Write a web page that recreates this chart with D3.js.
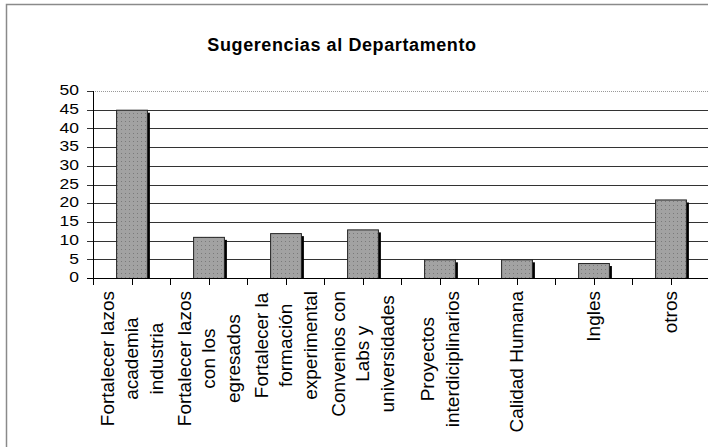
<!DOCTYPE html>
<html>
<head>
<meta charset="utf-8">
<script src="https://cdn.jsdelivr.net/npm/d3@7"></script>
<style>
  body { margin: 0; background: #fff; }
  text { font-family: "Liberation Sans", Arial, sans-serif; fill: #000; }
</style>
</head>
<body>
<script>
// chart data
var categories = [
  ["Fortalecer lazos", "academia", "industria"],
  ["Fortalecer lazos", "con los", "egresados"],
  ["Fortalecer la", "formación", "experimental"],
  ["Convenios con", "Labs y", "universidades"],
  ["Proyectos", "interdiciplinarios"],
  ["Calidad Humana"],
  ["Ingles"],
  ["otros"]
];
var values = [45, 11, 12, 13, 5, 5, 4, 21];
var yTicks = [0, 5, 10, 15, 20, 25, 30, 35, 40, 45, 50];
var title = "Sugerencias al Departamento";

var width = 708, height = 447;
var plot = {left: 93, right: 709, top: 91, bottom: 278};

var svg = d3.select("body").append("svg")
  .attr("width", width).attr("height", height);

svg.append("rect").attr("width", width).attr("height", height).attr("fill", "#fff");

// dotted fill like the old excel bars
var pat = svg.append("defs").append("pattern")
  .attr("id", "dots").attr("patternUnits", "userSpaceOnUse")
  .attr("width", 4).attr("height", 4);
pat.append("rect").attr("width", 4).attr("height", 4).attr("fill", "#a2a2a2");
pat.append("rect").attr("x", 1).attr("y", 1).attr("width", 1).attr("height", 1).attr("fill", "#7a7a7a");

// outer chart border (runs off the right and bottom of the picture)
svg.append("rect")
  .attr("x", 6.5).attr("y", 4.5)
  .attr("width", 760).attr("height", 500)
  .attr("fill", "none").attr("stroke", "#8a8a8a").attr("stroke-width", 1.5);

svg.append("text")
  .attr("x", 342).attr("y", 51)
  .attr("text-anchor", "middle")
  .style("font-weight", "bold").style("font-size", "18px")
  .style("letter-spacing", "0.6px")
  .text(title);

var x = d3.scaleBand()
  .domain(d3.range(categories.length))
  .range([plot.left, plot.right])
  .paddingInner(0.6).paddingOuter(0.3);

var y = d3.scaleLinear().domain([0, 50]).range([plot.bottom, plot.top]);

// gridlines
svg.selectAll(".grid")
  .data(yTicks.filter(function(t){ return t > 0 && t < 50; }))
  .enter().append("line")
  .attr("x1", plot.left - 6).attr("x2", plot.right)
  .attr("y1", function(d){ return Math.round(y(d)) + 0.5; })
  .attr("y2", function(d){ return Math.round(y(d)) + 0.5; })
  .attr("stroke", "#333").attr("stroke-width", 1);

// top of plot area is a dotted grey line
svg.append("line")
  .attr("x1", plot.left).attr("x2", plot.right)
  .attr("y1", Math.round(y(50)) + 0.5).attr("y2", Math.round(y(50)) + 0.5)
  .attr("stroke", "#999").attr("stroke-dasharray", "1,1");
svg.append("line")
  .attr("x1", plot.left - 6).attr("x2", plot.left)
  .attr("y1", Math.round(y(50)) + 0.5).attr("y2", Math.round(y(50)) + 0.5)
  .attr("stroke", "#333");

// bars: black shadow then dotted bar
var bars = svg.selectAll(".bar").data(values).enter().append("g");
bars.append("rect")
  .attr("x", function(d, i){ return x(i) + 3; })
  .attr("y", function(d){ return y(d) + 3; })
  .attr("width", x.bandwidth())
  .attr("height", function(d){ return plot.bottom - y(d) - 3; })
  .attr("fill", "#000");
bars.append("rect")
  .attr("x", function(d, i){ return x(i) + 0.5; })
  .attr("y", function(d){ return y(d) + 0.5; })
  .attr("width", x.bandwidth())
  .attr("height", function(d){ return plot.bottom - y(d); })
  .attr("fill", "url(#dots)")
  .attr("stroke", "#222").attr("stroke-width", 1);

// axes
svg.append("line")
  .attr("x1", plot.left + 0.5).attr("x2", plot.left + 0.5)
  .attr("y1", plot.top).attr("y2", plot.bottom + 1)
  .attr("stroke", "#000");
svg.append("line")
  .attr("x1", plot.left).attr("x2", plot.right)
  .attr("y1", plot.bottom + 0.5).attr("y2", plot.bottom + 0.5)
  .attr("stroke", "#000");
svg.append("line")
  .attr("x1", plot.left - 6).attr("x2", plot.left)
  .attr("y1", plot.bottom + 0.5).attr("y2", plot.bottom + 0.5)
  .attr("stroke", "#000");

// ticks along x at category edges and centres
var half = x.step() / 2;
var xt = d3.range(categories.length * 2 + 1).map(function(k){ return plot.left + k * half; });
svg.selectAll(".xtick").data(xt).enter().append("line")
  .attr("x1", function(d){ return Math.round(d) + 0.5; })
  .attr("x2", function(d){ return Math.round(d) + 0.5; })
  .attr("y1", plot.bottom).attr("y2", plot.bottom + 7)
  .attr("stroke", "#000");

// y labels are a bit wide in the original, so stretch them sideways
svg.selectAll(".ylab").data(yTicks).enter().append("text")
  .attr("transform", function(d){ return "translate(79," + y(d) + ") scale(1.25,1)"; })
  .attr("dy", "0.3em")
  .attr("text-anchor", "end")
  .style("font-size", "14px")
  .text(function(d){ return d; });

// rotated category labels, lines centred on each other, top aligned
var labelTop = 291, lineGap = 24.5;
categories.forEach(function(lines, i){
  var cx = x(i) + x.bandwidth() / 2;
  var g = svg.append("g").attr("transform", "translate(" + cx + "," + labelTop + ") rotate(-90)");
  var t = g.selectAll("text").data(lines).enter().append("text")
    .attr("y", function(d, j){ return (j - (lines.length - 1) / 2) * lineGap; })
    .attr("dy", "0.36em")
    .attr("text-anchor", "middle")
    .style("font-size", "19px")
    .text(function(d){ return d; });
  var maxLen = 0;
  t.each(function(){ maxLen = Math.max(maxLen, this.getComputedTextLength()); });
  t.attr("x", -maxLen / 2);
});
</script>
</body>
</html>
